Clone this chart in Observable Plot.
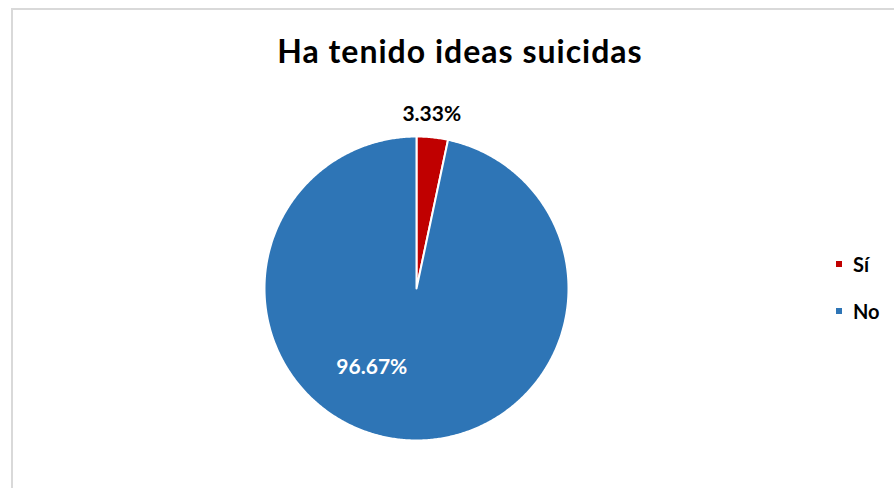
<!DOCTYPE html>
<html><head><meta charset="utf-8">
<script src="https://cdn.jsdelivr.net/npm/d3@7"></script>
<script src="https://cdn.jsdelivr.net/npm/@observablehq/plot@0.6"></script>
<style>
body{margin:0;background:#fff;}
#wrap{position:relative;width:894px;height:488px;overflow:hidden;font-family:Lato,"Open Sans",sans-serif;background:#fff;}
#frame{position:absolute;left:11px;top:8px;width:1000px;height:1000px;border:2px solid #d9d9d9;box-sizing:border-box;}
#chart{position:absolute;left:0;top:0;}
#title{position:absolute;left:0;width:920px;top:32px;height:38px;line-height:38px;text-align:center;font-weight:bold;font-size:32px;letter-spacing:1px;color:#000;}
.leg{position:absolute;left:836px;height:24px;line-height:24px;display:flex;align-items:center;font-weight:bold;font-size:20px;color:#000;}
.leg .sw{width:6px;height:6px;margin-right:11px;}
</style></head>
<body>
<div id="wrap">
  <div id="frame"></div>
  <div id="chart"></div>
  <div id="title">Ha tenido ideas suicidas</div>
</div>
<script>
const categories = ["Sí", "No"];
const values = [3.33, 96.67];
const colors = ["#C00000", "#2E75B6"];
const labels = ["3.33%", "96.67%"];

const arcs = d3.pie().sort(null).value(d => d)(values);
const pts = [];
arcs.forEach((a, i) => {
  pts.push({cat: categories[i], x: 0, y: 0});
  const step = Math.PI / 360;
  for (let t = a.startAngle; t < a.endAngle; t += step) {
    pts.push({cat: categories[i], x: Math.sin(t), y: Math.cos(t)});
  }
  pts.push({cat: categories[i], x: Math.sin(a.endAngle), y: Math.cos(a.endAngle)});
});
const mid = a => (a.startAngle + a.endAngle) / 2;
const outLab = [{text: labels[0], x: 1.15 * Math.sin(mid(arcs[0])), y: 1.15 * Math.cos(mid(arcs[0]))}];
const inLab = [{text: labels[1], x: 0.61 * Math.sin(mid(arcs[1])), y: 0.61 * Math.cos(mid(arcs[1]))}];

const plot = Plot.plot({
  width: 894, height: 488,
  marginLeft: 264, marginRight: 326, marginTop: 136, marginBottom: 48,
  x: {domain: [-1, 1], axis: null},
  y: {domain: [-1, 1], axis: null},
  color: {domain: categories, range: colors},
  style: {background: "transparent", fontFamily: "Lato, 'Open Sans', sans-serif"},
  marks: [
    Plot.line(pts, {x: "x", y: "y", z: "cat", fill: "cat", stroke: "white", strokeWidth: 2, curve: "linear-closed", strokeLinejoin: "round"}),
    Plot.text(outLab, {x: "x", y: "y", text: "text", fill: "black", fontWeight: "bold", fontSize: 21, dx: -3}),
    Plot.text(inLab, {x: "x", y: "y", text: "text", fill: "white", fontWeight: "bold", fontSize: 21, dx: -35, dy: -13})
  ]
});
document.getElementById("chart").appendChild(plot);

const legTops = [251.5, 298.5];
categories.forEach((c, i) => {
  const d = document.createElement("div");
  d.className = "leg";
  d.style.top = legTops[i] + "px";
  const sw = document.createElement("span");
  sw.className = "sw";
  sw.style.background = colors[i];
  d.appendChild(sw);
  d.appendChild(document.createTextNode(c));
  document.getElementById("wrap").appendChild(d);
});
</script>
</body></html>
